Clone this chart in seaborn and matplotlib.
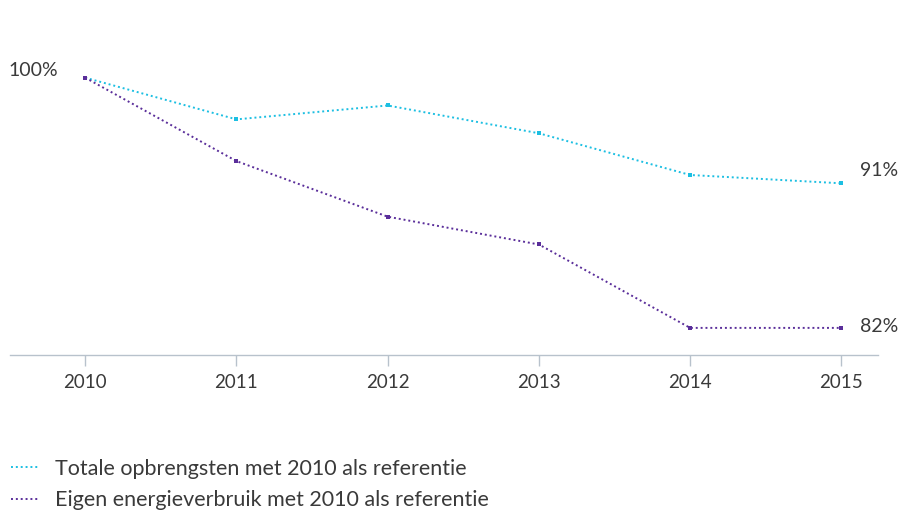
import matplotlib
matplotlib.use("Agg")
import matplotlib.pyplot as plt
import seaborn as sns
import pandas as pd
from matplotlib.lines import Line2D

# data (index, 2010 = 100)
years = [2010, 2011, 2012, 2013, 2014, 2015]
opbrengsten = [100, 97.0, 98.0, 96.0, 93.0, 92.4]
energie = [100, 94.0, 90.0, 88.0, 82.0, 82.0]
series_names = ["Totale opbrengsten met 2010 als referentie",
                "Eigen energieverbruik met 2010 als referentie"]
end_labels = ["91%", "82%"]
start_label = "100%"

teal = "#1cbfe2"
purple = "#5a2e9a"
text_col = "#3a3a3a"

sns.set_theme(style="white")
plt.rcParams["font.family"] = ["Lato", "DejaVu Sans"]

df = pd.DataFrame({
    "jaar": years * 2,
    "waarde": opbrengsten + energie,
    "reeks": [series_names[0]] * len(years) + [series_names[1]] * len(years),
})

fig = plt.figure(figsize=(9.01, 5.11), dpi=100)
W, H = 901, 511
ax = fig.add_axes([10 / W, 1 - 355 / H, (878 - 10) / W, (355 - 40) / H])

sns.lineplot(data=df, x="jaar", y="waarde", hue="reeks",
             palette=[teal, purple], ax=ax, linestyle=(0, (1, 1.5)),
             linewidth=1.4, marker="s", markersize=2.8, markeredgewidth=0,
             legend=False)

ax.set_xlim(2009.503, 2015.242)
ax.set_ylim(80.05, 102.71)
ax.set_xticks(years)
ax.set_xticklabels([str(y) for y in years], fontsize=13.5, color=text_col)
ax.set_yticks([])
ax.set_xlabel("")
ax.set_ylabel("")
for s in ["top", "right", "left"]:
    ax.spines[s].set_visible(False)
ax.spines["bottom"].set_color("#b8c2cc")
ax.spines["bottom"].set_linewidth(1)
ax.tick_params(axis="x", direction="out", length=8, width=1,
               color="#b8c2cc", pad=6, bottom=True)

# value labels
lab_size = 14
fig.text(8 / W, 1 - 70 / H, start_label, fontsize=lab_size, color=text_col,
         va="center", ha="left")
fig.text(860 / W, 1 - 170 / H, end_labels[0], fontsize=lab_size, color=text_col,
         va="center", ha="left")
fig.text(860 / W, 1 - 326 / H, end_labels[1], fontsize=lab_size, color=text_col,
         va="center", ha="left")

handles = [Line2D([], [], color=c, linestyle=(0, (1, 1.5)), linewidth=1.4)
           for c in [teal, purple]]
leg = fig.legend(handles, series_names, loc="upper left",
                 bbox_to_anchor=(2 / W, 1 - 450 / H), frameon=False,
                 fontsize=15.5, handlelength=1.3, handletextpad=0.75,
                 labelspacing=0.55, borderaxespad=0)
for t in leg.get_texts():
    t.set_color(text_col)

fig.savefig("out.png", dpi=100)
